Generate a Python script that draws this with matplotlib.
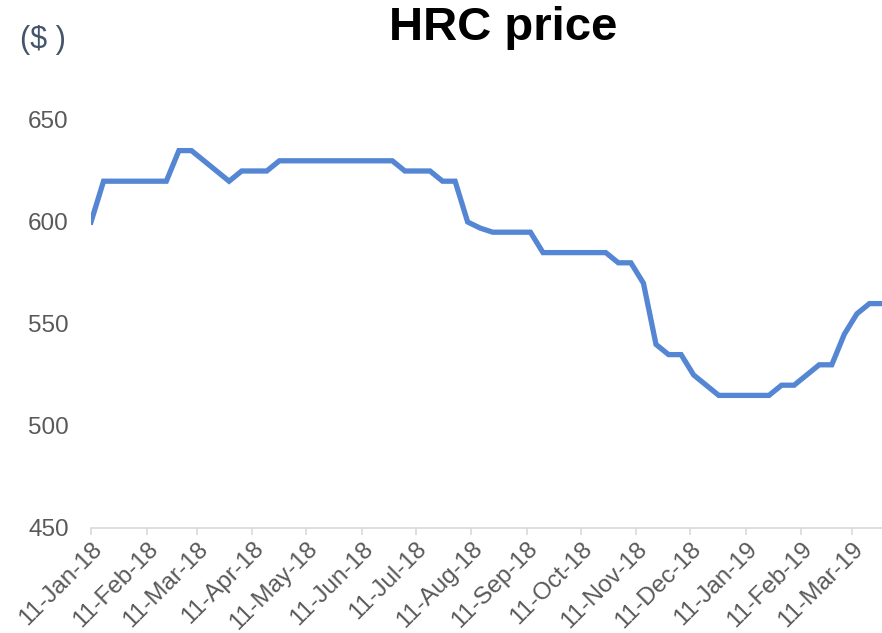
import matplotlib
matplotlib.use("Agg")
import matplotlib.pyplot as plt
import matplotlib.dates as mdates
import numpy as np
import pandas as pd

plt.rcParams['font.family'] = ['Liberation Sans', 'DejaVu Sans']

# weekly HRC price, $ per tonne
dates = pd.date_range("2018-01-11", periods=64, freq="7D")
prices = [
    600,
    620, 620, 620, 620, 620, 620,
    635, 635, 630, 625, 620,
    625, 625, 625,
    630, 630, 630, 630, 630, 630, 630, 630, 630, 630,
    625, 625, 625, 620, 620,
    600, 597, 595, 595, 595, 595,
    585, 585, 585, 585, 585, 585,
    580, 580, 570, 540, 535, 535, 525, 520,
    515, 515, 515, 515, 515,
    520, 520, 525, 530, 530, 545, 555, 560, 560,
]
tick_dates = pd.date_range("2018-01-01", periods=15, freq="MS") + pd.Timedelta(days=10)
y_ticks = [450, 500, 550, 600, 650]

fig = plt.figure(figsize=(8.82, 6.33), dpi=100)
ax = fig.add_axes([91 / 882, 105 / 633, 1 - 91 / 882, 408 / 633])

ax.plot(dates, prices, color="#5586D3", linewidth=3.8, solid_joinstyle="miter")

ax.set_yticks(y_ticks)
ax.set_xticks(tick_dates)
ax.xaxis.set_major_formatter(mdates.DateFormatter("%d-%b-%y"))
ax.set_xlim(dates[0], dates[-1])
ax.set_ylim(450, 650)

for s in ["top", "right", "left"]:
    ax.spines[s].set_visible(False)
ax.spines["bottom"].set_color("#d9d9d9")
ax.spines["bottom"].set_linewidth(1.2)
ax.tick_params(axis="y", length=0, pad=16, labelsize=17.5, labelcolor="#595959")
ax.tick_params(axis="x", length=5, color="#d9d9d9", width=1.2, pad=2,
               labelsize=17.5, labelcolor="#595959")
plt.setp(ax.get_xticklabels(), rotation=45, ha="right", rotation_mode="anchor")

fig.text(503 / 882, 1 - 28 / 633, "HRC price", fontsize=34, fontweight="bold",
         ha="center", va="center", color="black")
fig.text(20 / 882, 1 - 40 / 633, "($ )", fontsize=22, ha="left", va="center",
         color="#44546A")

fig.savefig("out.png", dpi=100)
